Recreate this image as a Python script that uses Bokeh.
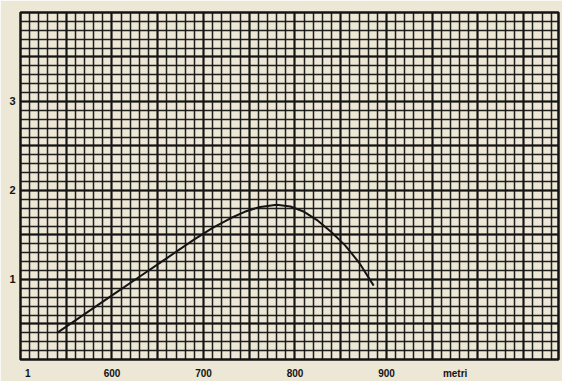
from bokeh.plotting import figure
from bokeh.models import Range1d, SingleIntervalTicker, FixedTicker, Grid
from bokeh.embed import file_html
from bokeh.resources import INLINE

# Data (distance in metres vs value)
distance_m = [540, 570, 600, 630, 660, 690, 710, 730, 745, 760, 780, 795, 810, 825, 840, 855, 870, 886]
value = [0.40, 0.61, 0.82, 1.03, 1.24, 1.45, 1.58, 1.69, 1.76, 1.81, 1.84, 1.82, 1.76, 1.66, 1.53, 1.38, 1.19, 0.93]

x_ticks = [508, 600, 700, 800, 900, 975]
x_tick_labels = ["1", "600", "700", "800", "900", "metri"]
y_ticks = [1, 2, 3]
y_tick_labels = ["1", "2", "3"]

paper = "#ede7d6"
ink = "#141414"

p = figure(width=562, height=381, output_backend="svg", toolbar_location=None,
           x_range=Range1d(500, 1088), y_range=Range1d(0.1, 4.0),
           min_border_left=20, min_border_right=4, min_border_top=12, min_border_bottom=20,
           background_fill_color=paper, border_fill_color=paper)

p.outline_line_color = ink
p.outline_line_width = 2.5

# fine graph-paper grid
p.xgrid.ticker = SingleIntervalTicker(interval=10)
p.ygrid.ticker = SingleIntervalTicker(interval=0.1)
for g in (p.xgrid, p.ygrid):
    g.grid_line_color = ink
    g.grid_line_width = 1.5
    g.grid_line_alpha = 0.95

# slightly heavier lines every 5 squares
p.add_layout(Grid(dimension=0, ticker=SingleIntervalTicker(interval=50),
                  grid_line_color=ink, grid_line_width=1.9))
p.add_layout(Grid(dimension=1, ticker=SingleIntervalTicker(interval=0.5),
                  grid_line_color=ink, grid_line_width=1.9))

p.line(distance_m, value, line_color=ink, line_width=2, line_join="round")

p.xaxis.ticker = FixedTicker(ticks=x_ticks)
p.xaxis.major_label_overrides = {t: l for t, l in zip(x_ticks, x_tick_labels)}
p.yaxis.ticker = FixedTicker(ticks=y_ticks)
p.yaxis.major_label_overrides = {t: l for t, l in zip(y_ticks, y_tick_labels)}

for ax in (p.xaxis, p.yaxis):
    ax.axis_line_color = None
    ax.major_tick_line_color = None
    ax.minor_tick_line_color = None
    ax.major_tick_in = 0
    ax.major_tick_out = 0
    ax.major_label_text_font = "Liberation Sans"
    ax.major_label_text_font_style = "bold"
    ax.major_label_text_color = ink

p.xaxis.major_label_text_font_size = "10px"
p.xaxis.major_label_standoff = 8
p.yaxis.major_label_text_font_size = "11px"
p.yaxis.major_label_standoff = 5

open("out.html", "w").write(file_html(p, INLINE))
